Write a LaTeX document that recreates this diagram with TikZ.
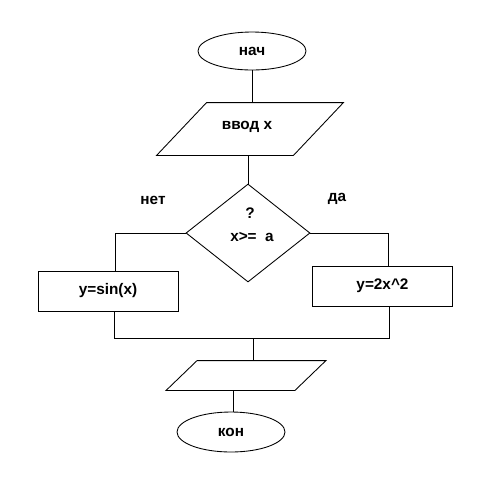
\documentclass[tikz,border=0pt]{standalone}
\usepackage{fontspec}
\setmainfont{Liberation Sans}
\usetikzlibrary{shapes.geometric,calc}
\begin{document}
\begin{tikzpicture}[x=0.75pt,y=-0.75pt,
  line width=0.65pt,
  txt/.style={font=\fontsize{11.5}{13}\selectfont\bfseries, inner sep=0pt},
  oval/.style={draw, ellipse, minimum width=81pt, minimum height=28.5pt, inner sep=0pt, font=\fontsize{11.5}{13}\selectfont\bfseries},
  procbox/.style={draw, rectangle, minimum width=105pt, minimum height=30pt, inner sep=0pt, font=\fontsize{11.5}{13}\selectfont\bfseries},
  iobox/.style={rectangle, inner sep=0pt},
  decision/.style={draw, diamond, minimum width=93pt, minimum height=73.5pt, inner sep=0pt}]
\useasboundingbox (0,0) rectangle (482,480);
% start
\node[oval] (nach) at (252,51) {нач};
% input
\node[iobox, minimum width=102pt, minimum height=39pt] (inp) at (250,129) {};
\node[txt] (inptxt) at (247,127) {ввод x};
\draw ($(inp.north west)+(25,0)$) -- ($(inp.north east)+(25,0)$) -- ($(inp.south east)+(-25,0)$) -- ($(inp.south west)+(-25,0)$) -- cycle;
% decision
\node[decision] (dec) at (248,233) {};
\node[txt] (q1) at (250,213) {?};
\node[txt] (q2) at (252,237) {x>=\ \ a};
\node[txt] (net) at (153,200) {нет};
\node[txt] (da) at (337,199) {да};
% branches
\node[procbox] (rl) at (108,291) {y=sin(x)};
\node[procbox] (rr) at (382.5,286) {y=2x\^{}2};
% output
\node[iobox, minimum width=96pt, minimum height=21.75pt] (outp) at (246,375.5) {};
\draw ($(outp.north west)+(15.5,0)$) -- ($(outp.north east)+(15.5,0)$) -- ($(outp.south east)+(-15.5,0)$) -- ($(outp.south west)+(-15.5,0)$) -- cycle;
% end
\node[oval, minimum height=30pt] (kon) at (231,432) {кон};
% coordinates
\coordinate (lt) at (115,0);
\coordinate (rt) at (388,0);
\coordinate (lb) at (114,338);
\coordinate (rb) at (389,338);
\coordinate (mg) at (253,338);
\coordinate (ob) at (233,0);
% connectors
\draw (nach.south) -- (nach.south |- inp.north);
\draw (dec.north |- inp.south) -- (dec.north);
\draw (dec.west) -| (lt |- rl.north);
\draw (dec.east) -| (rt |- rr.north);
\draw (lb |- rl.south) -- (lb) -- (rb) -- (rb |- rr.south);
\draw (mg) -- (mg |- outp.north);
\draw (ob |- outp.south) -- (ob |- kon.north);
\end{tikzpicture}
\end{document}
